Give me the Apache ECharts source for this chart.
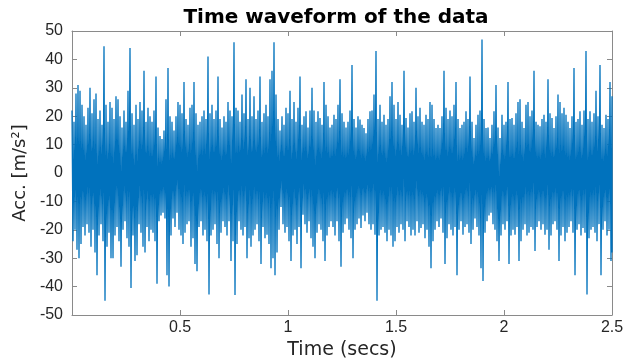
<!DOCTYPE html>
<html>
<head>
<meta charset="utf-8">
<script src="https://cdn.jsdelivr.net/npm/echarts@6/dist/echarts.min.js"></script>
<style>
  html, body { margin: 0; padding: 0; background: #fff; }
  #chart { width: 626px; height: 359px; }
</style>
</head>
<body>
<div id="chart"></div>
<script>
// Acceleration record, 0 – 2.5 s. Each entry is one short time slice:
// its positive peak (accHigh) and negative peak (accLow), in m/s^2.
const duration = 2.5;

const accHigh = [
  22, 18, 28, 31, 29, 24, 20, 17, 23, 30,
  21, 26, 28, 19, 22, 17, 44.6, 24, 18, 25,
  23, 19, 27, 26, 20, 16, 22, 18, 29, 44,
  21, 17, 24, 19, 25, 22, 36, 18, 23, 20,
  18, 22, 34, 16, 13, 12, 15, 26, 37, 20,
  18, 15, 20, 25, 24, 21, 32, 19, 17, 23,
  24, 32, 21, 17, 18, 20, 22, 19, 41, 21,
  24, 19, 22, 34, 19, 16, 20, 18, 25, 22,
  20, 46, 23, 22, 18, 27.6, 21, 33, 19, 30,
  20, 27, 19, 22, 34, 18, 21, 24, 20, 33,
  36, 46, 27.6, 19, 15, 20, 17, 23, 21, 29,
  19, 25, 18, 23, 34, 17, 20, 21.7, 16, 22,
  30, 22, 18, 21.7, 19.4, 17, 32, 24, 20, 16,
  17, 20.5, 19, 24, 33, 21, 18, 16, 18, 22,
  38, 19, 16, 20, 18.8, 17, 15.8, 14, 19, 21.7,
  22, 27.6, 43, 19, 24, 18, 20.5, 17, 19, 27,
  32, 24, 19, 25, 20.5, 17, 36, 19.4, 16, 21,
  21.7, 18, 30, 20, 23, 18, 17, 20.5, 19, 25,
  24, 19, 15.8, 17, 15.8, 20, 36, 23, 19, 22,
  20, 24, 32, 19, 15.8, 17, 18, 21.7, 19, 34,
  18, 12.3, 17, 20.5, 22, 47, 19, 15.8, 16, 12.3,
  17, 21.7, 31, 16, 12.3, 20.5, 17, 18, 32, 19,
  19.4, 17, 21, 25, 26, 18, 15.8, 24, 25, 20,
  22, 36, 18, 17, 16.5, 19, 20.5, 18, 33, 21,
  19.4, 15.8, 20, 27.6, 25, 21, 23, 20.5, 18, 15.8,
  20, 37, 18, 19, 21.7, 17, 22, 43, 19, 21.7,
  18, 21, 29, 20, 38, 17, 15.8, 20.5, 19, 32, 27
];

const accLow = [
  -24, -20, -27, -30, -25, -19, -22, -18, -21, -26,
  -20, -28, -36, -22, -18, -24, -45, -26, -21, -30,
  -30, -22, -19, -24, -33, -20, -17, -23, -26, -40.5,
  -22, -31, -29, -18, -21, -26, -28, -19, -24, -20,
  -21, -24, -39, -17, -15, -14, -16, -36, -40, -22,
  -16, -19, -14, -20, -22, -25, -21, -18, -17, -26,
  -23, -32, -34.6, -19, -17, -22, -20, -24, -42.8, -22,
  -20, -18, -25, -30, -21, -17, -19, -22, -17, -31,
  -24, -43, -25, -17, -20, -22, -19, -30, -23, -26,
  -22, -20, -18, -24, -32, -19, -23, -21.7, -25, -33.5,
  -30, -36, -28, -20, -12, -18, -21, -19, -24, -31,
  -22, -20, -25, -19, -33.5, -14.7, -18, -21, -17, -23,
  -26, -30, -21, -18, -20, -24, -31, -22, -19, -17,
  -19, -22, -17, -24, -33, -21, -18, -16, -20, -23,
  -30, -20, -18, -16, -19.4, -15, -17, -14, -18, -20,
  -18, -21.7, -45, -22, -20, -19, -21, -24, -20, -22,
  -26, -24, -19, -21, -18, -20, -24, -17, -19, -22,
  -20, -22, -17, -21, -19.4, -18, -23, -20, -26, -33.5,
  -24, -20, -17, -19, -16, -21, -32, -23, -18, -20,
  -22, -19, -36, -20, -17, -21.7, -19, -18, -21, -25,
  -20, -16, -19, -22, -33.5, -38, -21, -17, -15, -14,
  -18, -20, -24, -31, -22, -18, -20, -17, -32, -22,
  -20, -21.7, -19, -31, -24, -20, -18, -22, -21, -19,
  -20, -27.5, -19, -17, -20, -18, -21.7, -20, -27, -22,
  -18, -17, -20, -31, -22, -19, -24, -21, -19, -17,
  -21, -36, -20, -18, -22, -19.4, -21, -42.8, -23, -20,
  -19, -21, -24, -18, -36, -20, -17, -22, -20, -31, -28
];

const xTicks = [0, 0.5, 1, 1.5, 2, 2.5];
const yTicks = [-50, -40, -30, -20, -10, 0, 10, 20, 30, 40, 50];

// Interleave the positive and negative peak of every slice into one trace.
const slice = duration / (accHigh.length - 1);
const trace = [];
for (let i = 0; i < accHigh.length; i++) {
  trace.push([i * slice, accHigh[i]]);
  if (i < accHigh.length - 1) trace.push([i * slice + slice / 2, accLow[i]]);
  else trace.push([i * slice, accLow[i]]);
}

const FONT = 'Liberation Sans, Arial, Helvetica, sans-serif';
const WIDE = 'DejaVu Sans, Verdana, sans-serif';
const AXIS_GREY = '#8a8a8a';
const TEXT = '#262626';

function xAxisOf(pos, labels) {
  return {
    type: 'value', position: pos,
    min: xTicks[0], max: xTicks[xTicks.length - 1], interval: 0.5,
    axisLine: { show: true, onZero: false, lineStyle: { color: AXIS_GREY, width: 1 } },
    axisTick: { show: true, inside: true, length: 5, lineStyle: { color: AXIS_GREY } },
    axisLabel: {
      show: labels, showMinLabel: false, margin: 5,
      fontFamily: FONT, fontSize: 16, color: TEXT,
      formatter: v => String(v)
    },
    splitLine: { show: false },
    name: labels ? 'Time (secs)' : '',
    nameLocation: 'middle', nameGap: 24,
    nameTextStyle: { fontFamily: WIDE, fontSize: 19, color: TEXT }
  };
}

function yAxisOf(pos, labels) {
  return {
    type: 'value', position: pos,
    min: yTicks[0], max: yTicks[yTicks.length - 1], interval: 10,
    axisLine: { show: true, onZero: false, lineStyle: { color: AXIS_GREY, width: 1 } },
    axisTick: { show: true, inside: true, length: 5, lineStyle: { color: AXIS_GREY } },
    axisLabel: {
      show: labels, margin: 9,
      fontFamily: FONT, fontSize: 16, color: TEXT
    },
    splitLine: { show: false },
    name: labels ? 'Acc. [m/s²]' : '',
    nameLocation: 'middle', nameGap: 41, nameRotate: 90,
    nameTextStyle: { fontFamily: WIDE, fontSize: 18, color: TEXT }
  };
}

const chart = echarts.init(document.getElementById('chart'), null, { renderer: 'canvas' });
chart.setOption({
  animation: false,
  backgroundColor: '#ffffff',
  title: {
    text: 'Time waveform of the data',
    left: 331, top: 3, textAlign: 'center',
    textStyle: { fontFamily: WIDE, fontSize: 20, fontWeight: 'bold', color: '#000' }
  },
  grid: {
    left: 72, right: 14, top: 31, bottom: 44,
    containLabel: false, outerBoundsMode: 'none'
  },
  xAxis: [xAxisOf('bottom', true), xAxisOf('top', false)],
  yAxis: [yAxisOf('left', true), yAxisOf('right', false)],
  series: [{
    type: 'line',
    data: trace,
    xAxisIndex: 0, yAxisIndex: 0,
    showSymbol: false,
    sampling: null,
    lineStyle: { color: '#0072BD', width: 1.3 },
    emphasis: { disabled: true }
  }]
});
</script>
</body>
</html>
